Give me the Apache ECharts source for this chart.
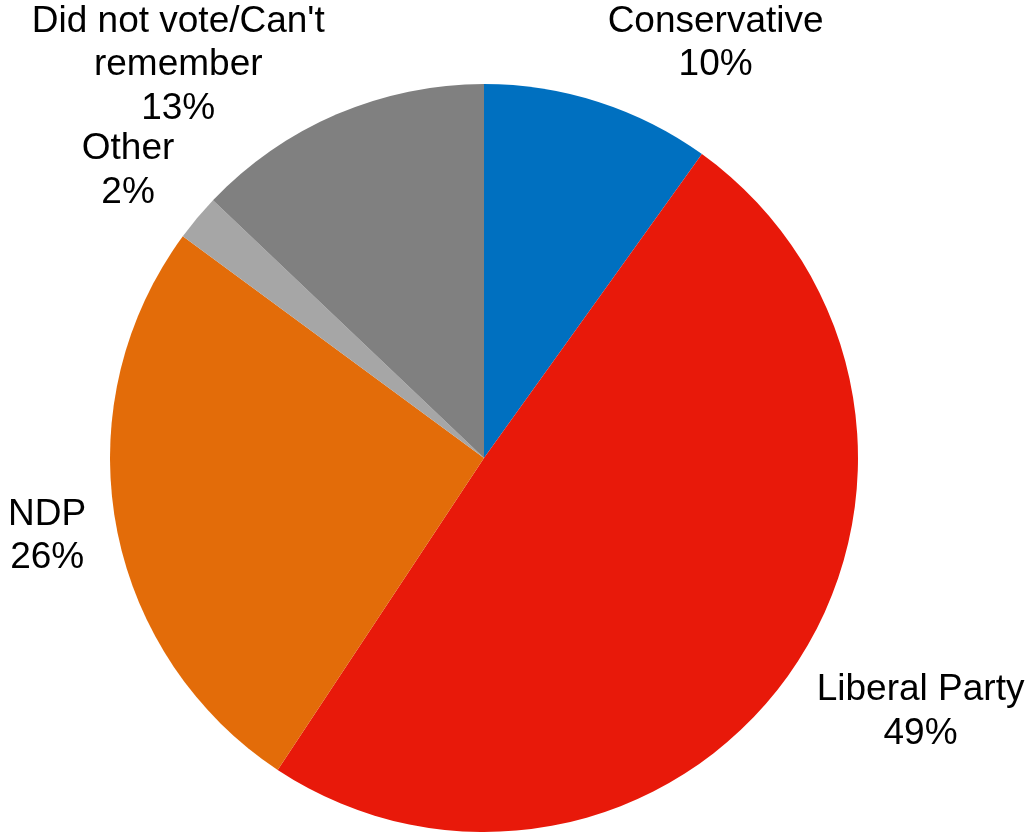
<!DOCTYPE html>
<html>
<head>
<meta charset="utf-8">
<script src="https://cdn.jsdelivr.net/npm/echarts@6/dist/echarts.min.js"></script>
<style>
  html, body { margin: 0; padding: 0; background: #ffffff; }
  #chart { width: 1031px; height: 836px; }
</style>
</head>
<body>
<div id="chart"></div>
<script>
const categories = ['Conservative', 'Liberal Party', 'NDP', 'Other', "Did not vote/Can't remember"];
const values = [9.9, 49.4, 25.8, 2.0, 12.9];
const colors = ['#0070C0', '#E8190A', '#E36C09', '#A6A6A6', '#808080'];

const W = 1031, H = 836;
const CX = 484, CY = 458, R = 374, GAP = 30;

function wrapName(name, maxChars) {
  const words = name.split(' ');
  const lines = [];
  let cur = '';
  words.forEach(function (w) {
    if (cur && (cur + ' ' + w).length > maxChars) { lines.push(cur); cur = w; }
    else { cur = cur ? cur + ' ' + w : w; }
  });
  if (cur) lines.push(cur);
  return lines.join('\n');
}

const total = values.reduce(function (a, b) { return a + b; }, 0);

const chart = echarts.init(document.getElementById('chart'), null, { renderer: 'canvas' });
chart.setOption({
  animation: false,
  backgroundColor: '#ffffff',
  series: [{
    type: 'pie',
    center: [CX, CY],
    radius: R,
    startAngle: 90,
    clockwise: true,
    avoidLabelOverlap: false,
    data: categories.map(function (c, i) {
      return { name: c, value: values[i], itemStyle: { color: colors[i] } };
    }),
    label: {
      show: true,
      position: 'outside',
      color: '#000000',
      fontFamily: 'Liberation Sans, Arial, sans-serif',
      fontSize: 37,
      lineHeight: 43.5,
      formatter: function (p) {
        return wrapName(p.name, 18) + '\n' + Math.round(p.percent) + '%';
      }
    },
    labelLine: { show: false },
    labelLayout: function (p) {
      const i = p.dataIndex;
      let cum = 0;
      for (let k = 0; k < i; k++) cum += values[k];
      const mid = (cum + values[i] / 2) / total * Math.PI * 2;
      const dx = Math.sin(mid), dy = -Math.cos(mid);
      const w = p.labelRect.width, h = p.labelRect.height;
      let x = CX + dx * (R + GAP) + Math.sign(dx) * w / 2;
      let y = CY + dy * (R + GAP) + dy * h / 2;
      x = Math.min(Math.max(x, w / 2), W - w / 2);
      y = Math.min(Math.max(y, h / 2), H - h / 2);
      return { x: x, y: y, align: 'center', verticalAlign: 'middle' };
    },
    emphasis: { disabled: true }
  }]
});
</script>
</body>
</html>
